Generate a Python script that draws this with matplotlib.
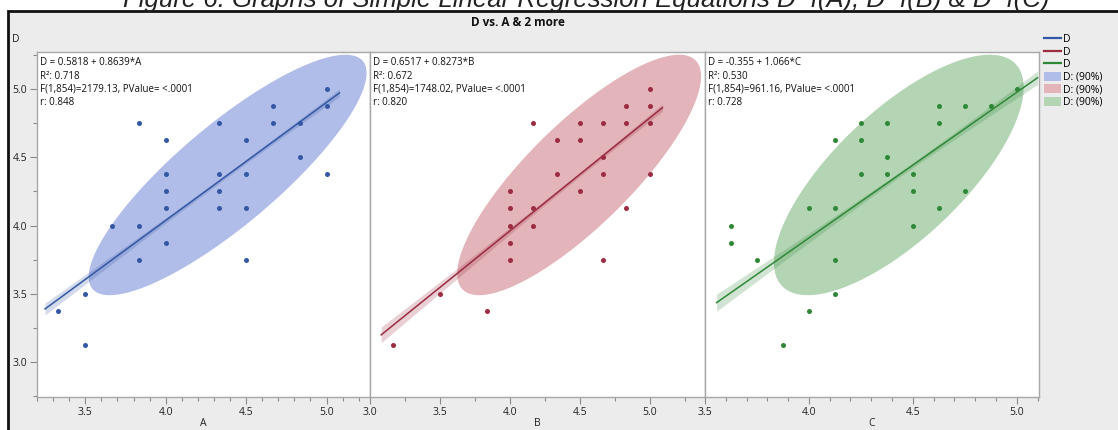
import numpy as np
import matplotlib.pyplot as plt
from matplotlib.patches import Rectangle, Patch
from matplotlib.lines import Line2D
from matplotlib.ticker import MultipleLocator

plt.rcParams['font.family'] = ['Open Sans', 'DejaVu Sans']

# ---- data ----
a_x = [5.0, 4.667, 5.0, 3.833, 4.333, 4.667, 4.833, 4.0, 4.5, 4.833, 4.0, 4.333, 4.5, 5.0,
       4.0, 4.333, 4.0, 4.333, 4.5, 3.667, 3.833, 4.0, 3.833, 4.5, 3.5, 3.333, 3.5]
a_d = [5.0, 4.875, 4.875, 4.75, 4.75, 4.75, 4.75, 4.625, 4.625, 4.5, 4.375, 4.375, 4.375, 4.375,
       4.25, 4.25, 4.125, 4.125, 4.125, 4.0, 4.0, 3.875, 3.75, 3.75, 3.5, 3.375, 3.125]

b_x = [5.0, 4.833, 5.0, 4.167, 4.5, 4.667, 4.833, 5.0, 4.333, 4.5, 4.667, 4.333, 4.667, 5.0,
       4.0, 4.5, 4.0, 4.167, 4.833, 4.0, 4.167, 4.0, 4.0, 4.667, 3.5, 3.833, 3.167]
b_d = [5.0, 4.875, 4.875, 4.75, 4.75, 4.75, 4.75, 4.75, 4.625, 4.625, 4.5, 4.375, 4.375, 4.375,
       4.25, 4.25, 4.125, 4.125, 4.125, 4.0, 4.0, 3.875, 3.75, 3.75, 3.5, 3.375, 3.125]

c_x = [5.0, 4.625, 4.75, 4.875, 4.25, 4.375, 4.625, 4.125, 4.25, 4.375, 4.25, 4.375, 4.5, 4.5,
       4.75, 4.0, 4.125, 4.625, 3.625, 4.5, 3.625, 3.75, 4.125, 4.125, 4.0, 3.875]
c_d = [5.0, 4.875, 4.875, 4.875, 4.75, 4.75, 4.75, 4.625, 4.625, 4.5, 4.375, 4.375, 4.375, 4.25,
       4.25, 4.125, 4.125, 4.125, 4.0, 4.0, 3.875, 3.75, 3.75, 3.5, 3.375, 3.125]

names = ['A', 'B', 'C']
intercepts = [0.5818, 0.6517, -0.355]
slopes = [0.8639, 0.8273, 1.066]
r2 = [0.718, 0.672, 0.530]
f_vals = [2179.13, 1748.02, 961.16]
r_vals = [0.848, 0.820, 0.728]
eq_text = ['D = 0.5818 + 0.8639*A', 'D = 0.6517 + 0.8273*B', 'D = -0.355 + 1.066*C']
n_obs = 856

# summary stats for the 90% density ellipses
d_mean = 4.37
d_sd = 0.41
x_sd = [0.4025, 0.406, 0.28]

# where each fit line starts/ends
fit_lo = [3.25, 3.08, 3.556]
fit_hi = [5.08, 5.09, 5.10]

xlims = [(3.2, 5.27), (3.0, 5.394), (3.5, 5.107)]
x_minor = [0.1, 0.25, 0.1]
x_major = [[3.5, 4.0, 4.5, 5.0], [3.0, 3.5, 4.0, 4.5, 5.0], [3.5, 4.0, 4.5, 5.0]]
ylim = (2.745, 5.27)

line_cols = ['#3458a4', '#9b2c42', '#2f8838']
fill_cols = ['#b1bde9', '#e3b4b9', '#b3d5b4']

W, H = 1118, 430
fig = plt.figure(figsize=(W / 100, H / 100), dpi=100, facecolor='white')

# gray frame with black top/left border
fig.patches.append(Rectangle((8 / W, -0.1), 1.2, 1.1 - 11 / H, transform=fig.transFigure,
                             facecolor='#ececec', edgecolor='#111111', linewidth=2, zorder=-10))

# cut-off caption above the frame
fig.text(586 / W, 1 - 7 / H,
         'Figure 6: Graphs of Simple Linear Regression Equations D~f(A), D~f(B) & D~f(C)',
         ha='center', va='baseline', fontsize=18.5, style='italic',
         family=['Liberation Sans', 'DejaVu Sans'], color='#222222')

fig.text(518 / W, 1 - 22 / H, 'D vs. A & 2 more', ha='center', va='center',
         fontsize=8.5, fontweight='bold', color='#111111')
fig.text(12 / W, 1 - 39 / H, 'D', ha='left', va='center', fontsize=7.5, color='#222222')

edges = [37, 370, 705, 1039]
top, bottom = 52, 397
xs_all = [a_x, b_x, c_x]
ds_all = [a_d, b_d, c_d]
chi = np.sqrt(-2 * np.log(0.1))
t_crit = 1.963

for i in range(3):
    ax = fig.add_axes([edges[i] / W, 1 - bottom / H, (edges[i + 1] - edges[i]) / W, (bottom - top) / H])
    ax.set_facecolor('white')

    # density ellipse
    mx = (d_mean - intercepts[i]) / slopes[i]
    cov = np.array([[x_sd[i] ** 2, r_vals[i] * x_sd[i] * d_sd],
                    [r_vals[i] * x_sd[i] * d_sd, d_sd ** 2]])
    L = np.linalg.cholesky(cov)
    t = np.linspace(0, 2 * np.pi, 300)
    pts = L @ np.vstack([np.cos(t), np.sin(t)]) * chi
    ax.fill(mx + pts[0], d_mean + pts[1], color=fill_cols[i], lw=0, zorder=1)

    # fit line + confidence band
    xx = np.linspace(fit_lo[i], fit_hi[i], 100)
    yy = intercepts[i] + slopes[i] * xx
    s_res = d_sd * np.sqrt((1 - r2[i]) * (n_obs - 1) / (n_obs - 2))
    sxx = (n_obs - 1) * x_sd[i] ** 2
    se = s_res * np.sqrt(1 / n_obs + (xx - mx) ** 2 / sxx)
    ax.fill_between(xx, yy - t_crit * se, yy + t_crit * se, color=line_cols[i], alpha=0.22, lw=0, zorder=2)
    ax.plot(xx, yy, color=line_cols[i], lw=1.1, zorder=3)

    ax.scatter(xs_all[i], ds_all[i], s=13, color=line_cols[i], lw=0, zorder=4)

    ax.text(0.008, 0.985, eq_text[i] + '\n' + 'R²: %.3f' % r2[i] + '\n'
            + 'F(1,854)=%.2f, PValue= <.0001' % f_vals[i] + '\n' + 'r: %.3f' % r_vals[i],
            transform=ax.transAxes, ha='left', va='top', fontsize=7.0, linespacing=1.3,
            color='#111111')

    ax.set_xlim(*xlims[i])
    ax.set_ylim(*ylim)
    ax.set_xticks(x_major[i])
    ax.set_xticklabels(['%.1f' % v for v in x_major[i]])
    ax.xaxis.set_minor_locator(MultipleLocator(x_minor[i]))
    ax.set_yticks([3.0, 3.5, 4.0, 4.5, 5.0])
    ax.yaxis.set_minor_locator(MultipleLocator(0.25))
    ax.tick_params(which='major', length=5, width=0.8, color='#8a8a8a', labelsize=7.5,
                   labelcolor='#222222', pad=2)
    ax.tick_params(which='minor', length=3, width=0.8, color='#8a8a8a')
    if i > 0:
        ax.tick_params(axis='y', which='both', left=False, labelleft=False)
    ax.set_xlabel(names[i], fontsize=7.5, color='#222222', labelpad=0)
    for sp in ax.spines.values():
        sp.set_color('#a8a8a8')
        sp.set_linewidth(1.0)

handles = [Line2D([], [], color=c, lw=1.6) for c in line_cols] + \
          [Patch(facecolor=c, edgecolor='none') for c in fill_cols]
labels = ['D', 'D', 'D', 'D: (90%)', 'D: (90%)', 'D: (90%)']
fig.legend(handles, labels, loc='upper left', bbox_to_anchor=(1042 / W, 1 - 32 / H),
           frameon=False, fontsize=7.5, handlelength=1.6, handleheight=0.9,
           handletextpad=0.2, labelspacing=0.15, borderpad=0.2, borderaxespad=0)

fig.savefig('out.png', dpi=100, facecolor=fig.get_facecolor())
